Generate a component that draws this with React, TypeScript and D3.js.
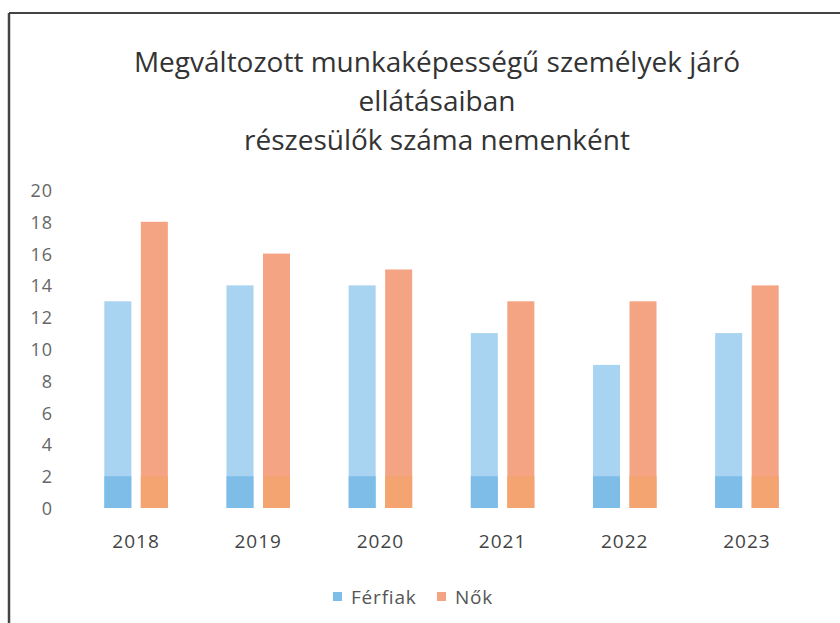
import * as d3 from "d3";

const years = ["2018", "2019", "2020", "2021", "2022", "2023"];
const seriesNames = ["Férfiak", "Nők"];
const ferfiak = [13, 14, 14, 11, 9, 11];
const nok = [18, 16, 15, 13, 13, 14];
const yTicks = [0, 2, 4, 6, 8, 10, 12, 14, 16, 18, 20];
const titleLines = [
  "Megváltozott munkaképességű személyek járó",
  "ellátásaiban",
  "részesülők száma nemenként",
];

const W = 840;
const H = 623;
const FONT = "'Open Sans', 'Noto Sans', sans-serif";
const COLORS = ["#a8d3f1", "#f4a482"];
const BASE_COLORS = ["#7fbde9", "#f3a470"];

export default function App() {
  // x0 = years, x1 = series inside a year
  const x0 = d3.scaleBand().domain(years).range([75, 808]).paddingInner(0.48).paddingOuter(0.24);
  const x1 = d3.scaleBand().domain(seriesNames).range([0, x0.bandwidth()]).paddingInner(0.26);
  const y = d3.scaleLinear().domain([0, 20]).range([508, 190]);

  const rows = years.map((yr, i) => ({ year: yr, values: [ferfiak[i], nok[i]] }));

  return (
    <svg width={W} height={H} style={{ position: "absolute", left: 0, top: 0, background: "#fff" }}>
      {/* frame */}
      <line x1={9} y1={13} x2={W} y2={13} stroke="#444" strokeWidth={2} />
      <line x1={9} y1={13} x2={9} y2={H} stroke="#444" strokeWidth={2.5} />

      {titleLines.map((t, i) => (
        <text
          key={i}
          x={437}
          y={72 + i * 39}
          textAnchor="middle"
          fontFamily={FONT}
          fontSize={28}
          fontWeight={500}
          fill="#333"
        >
          {t}
        </text>
      ))}

      {yTicks.map((t) => (
        <text
          key={t}
          x={53}
          y={y(t)}
          textAnchor="end"
          dominantBaseline="central"
          fontFamily={FONT}
          fontSize={18}
          letterSpacing={1}
          fill="#666"
        >
          {t}
        </text>
      ))}

      {rows.map((r) => (
        <g key={r.year} transform={`translate(${x0(r.year)},0)`}>
          {r.values.map((v, j) => (
            <g key={j}>
              <rect
                x={x1(seriesNames[j])}
                y={y(v)}
                width={x1.bandwidth()}
                height={y(0) - y(v)}
                fill={COLORS[j]}
              />
              <rect
                x={x1(seriesNames[j])}
                y={y(2)}
                width={x1.bandwidth()}
                height={y(0) - y(2)}
                fill={BASE_COLORS[j]}
              />
            </g>
          ))}
          <text
            x={x0.bandwidth() / 2}
            y={541}
            textAnchor="middle"
            dominantBaseline="central"
            fontFamily={FONT}
            fontSize={19}
            letterSpacing={1}
            fill="#444"
          >
            {r.year}
          </text>
        </g>
      ))}

      {/* legend */}
      {seriesNames.map((s, i) => {
        const lx = i === 0 ? 333 : 437;
        return (
          <g key={s}>
            <rect x={lx} y={592} width={9} height={9} fill={i === 0 ? BASE_COLORS[0] : COLORS[1]} />
            <text
              x={lx + 18}
              y={597}
              dominantBaseline="central"
              fontFamily={FONT}
              fontSize={19}
              letterSpacing={0.8}
              fill="#555"
            >
              {s}
            </text>
          </g>
        );
      })}
    </svg>
  );
}
